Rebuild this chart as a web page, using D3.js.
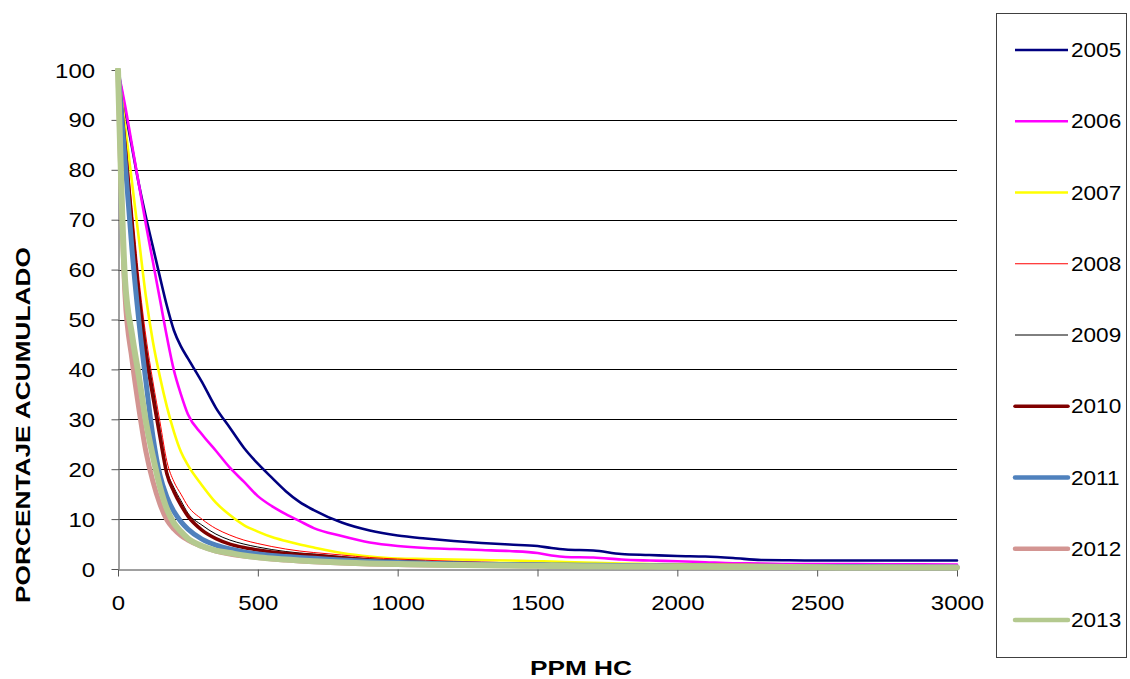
<!DOCTYPE html>
<html>
<head>
<meta charset="utf-8">
<script src="https://cdn.jsdelivr.net/npm/d3@7"></script>
<style>
  html, body { margin: 0; padding: 0; background: #fff; }
  svg { display: block; }
  text { font-family: "Liberation Sans", Arial, sans-serif; fill: #000; }
</style>
</head>
<body>
<svg id="chart" width="1130" height="679"></svg>
<script>
// PPM HC sampling points (x values shared by every year)
const ppm = [0,25,50,75,100,125,150,175,200,225,250,
             300,350,400,450,500,550,600,650,700,
             800,900,1000,1100,1200,1300,1400,1500,
             1550,1600,1700,1800,1900,2000,2100,2200,2300,2400,2500,
             2750,3000];

// Cumulative percentage per year
const pct2005 = [100,92,84.5,77,70.5,64.5,58.5,52.7,47.8,44.6,42.2,
                 37.5,32.3,28.3,24.3,21.1,18.3,15.6,13.4,11.8,
                 9.3,7.7,6.7,6.1,5.6,5.2,4.9,4.6,
                 4.2,3.9,3.7,3.0,2.8,2.6,2.5,2.2,1.8,1.75,1.7,
                 1.7,1.7];
const pct2006 = [100,93,85,77,69,61.5,54,46.5,39.8,35.0,31.0,
                 27.0,23.7,20.3,17.5,14.6,12.6,11.0,9.6,8.2,
                 6.6,5.3,4.6,4.2,4.0,3.8,3.6,3.2,
                 2.7,2.4,2.3,1.9,1.7,1.55,1.35,1.15,1.1,1.0,1.0,
                 0.95,0.9];
const pct2007 = [100,89,77.5,66,54.5,45.5,38.5,32.5,27.5,23.5,20.8,
                 16.8,13.3,10.8,8.8,7.5,6.4,5.6,4.9,4.3,
                 3.2,2.5,2.1,2.0,1.9,1.8,1.7,1.55,
                 1.5,1.4,1.25,1.1,1.0,0.95,0.9,0.85,0.8,0.75,0.7,
                 0.6,0.5];
const pct2008 = [100,87,72.5,58,46.5,37.5,29.5,21.5,17.5,15.0,12.6,
                 10.0,8.1,6.8,5.8,5.1,4.5,4.0,3.6,3.3,
                 2.8,2.3,2.0,1.75,1.55,1.4,1.25,1.15,
                 1.1,1.05,1.0,0.9,0.85,0.8,0.75,0.7,0.65,0.6,0.6,
                 0.5,0.45];
const pct2009 = [100,86,71,56.5,45,36.3,28,19.8,16.3,13.7,11.2,
                 8.8,7.0,5.8,5.0,4.4,3.9,3.5,3.2,3.0,
                 2.5,2.0,1.7,1.5,1.35,1.2,1.1,1.0,
                 0.95,0.9,0.85,0.8,0.75,0.7,0.65,0.6,0.6,0.55,0.5,
                 0.45,0.4];
const pct2010 = [100,85,69,54.5,43,34.5,26.5,19,15.5,12.8,10.6,
                 7.8,6.1,5.0,4.3,3.8,3.4,3.1,2.9,2.7,
                 2.2,1.8,1.5,1.3,1.15,1.05,0.95,0.9,
                 0.85,0.8,0.75,0.7,0.65,0.6,0.55,0.55,0.5,0.5,0.45,
                 0.4,0.35];
const pct2011 = [100,82,64,49.5,37.5,26.5,18.8,14.4,11.5,9.5,8.0,
                 6.0,4.8,4.0,3.4,3.0,2.7,2.5,2.3,2.15,
                 1.8,1.5,1.3,1.15,1.05,0.95,0.9,0.85,
                 0.8,0.8,0.75,0.7,0.65,0.6,0.6,0.55,0.55,0.5,0.5,
                 0.45,0.4];
const pct2012 = [100,55,42,32,23.5,17.5,13,9.8,8.0,6.7,5.8,
                 4.5,3.6,3.0,2.6,2.3,2.0,1.8,1.6,1.45,
                 1.2,1.0,0.9,0.8,0.75,0.7,0.65,0.6,
                 0.55,0.55,0.5,0.5,0.45,0.45,0.4,0.4,0.4,0.35,0.35,
                 0.3,0.3];
const pct2013 = [100,58,47,38.5,29.5,22.5,16.5,12,9.2,7.5,6.1,
                 4.6,3.7,3.2,2.7,2.35,2.1,1.9,1.7,1.55,
                 1.3,1.1,1.0,0.9,0.8,0.75,0.7,0.65,
                 0.6,0.6,0.55,0.5,0.5,0.45,0.45,0.4,0.4,0.4,0.35,
                 0.3,0.3];

const years = ["2005","2006","2007","2008","2009","2010","2011","2012","2013"];
const seriesValues = [pct2005,pct2006,pct2007,pct2008,pct2009,pct2010,pct2011,pct2012,pct2013];

const xTicks = [0,500,1000,1500,2000,2500,3000];
const yTicks = [0,10,20,30,40,50,60,70,80,90,100];

const xTitle = "PPM HC";
const yTitle = "PORCENTAJE ACUMULADO";

// Line appearance per year
const lineStyle = {
  "2005": { color: "#000080", width: 2.6 },
  "2006": { color: "#FF00FF", width: 2.6 },
  "2007": { color: "#FFFF00", width: 2.6 },
  "2008": { color: "#FF0000", width: 1 },
  "2009": { color: "#000000", width: 1 },
  "2010": { color: "#800000", width: 3.5 },
  "2011": { color: "#4F81BD", width: 5 },
  "2012": { color: "#D39592", width: 5 },
  "2013": { color: "#B4C98F", width: 6 }
};

const svg = d3.select("#chart");
const plot = { left: 118, right: 957, top: 70, bottom: 569 };
const stretch = 1.2; // horizontal widening of the label type

const x = d3.scaleLinear().domain([0, 3000]).range([plot.left, plot.right]);
const y = d3.scaleLinear().domain([0, 100]).range([plot.bottom, plot.top]);

// Horizontal gridlines
svg.append("g")
  .selectAll("line")
  .data(yTicks.filter(v => v > 0 && v < 100))
  .join("line")
  .attr("x1", plot.left).attr("x2", plot.right)
  .attr("y1", d => Math.round(y(d)) + 0.5).attr("y2", d => Math.round(y(d)) + 0.5)
  .attr("stroke", "#000")
  .attr("stroke-width", 1);

// Y axis
const yAxis = svg.append("g")
  .attr("transform", `translate(${plot.left + 0.5},0)`)
  .call(d3.axisLeft(y).tickValues(yTicks).tickSize(7).tickSizeOuter(0).tickFormat(d3.format("d")));
yAxis.select(".domain").attr("stroke", "#808080").attr("stroke-width", 1.5);
yAxis.selectAll(".tick line").attr("stroke", "#555");
yAxis.selectAll(".tick text")
  .attr("font-size", 20)
  .attr("font-family", "Liberation Sans, Arial, sans-serif")
  .attr("fill", "#000")
  .attr("x", -19.5)
  .attr("dy", "0.35em")
  .attr("transform", `scale(${stretch},1)`);

// X axis
const xAxis = svg.append("g")
  .attr("transform", `translate(0,${plot.bottom + 0.5})`)
  .call(d3.axisBottom(x).tickValues(xTicks).tickSize(7).tickSizeOuter(0).tickFormat(d3.format("d")));
xAxis.select(".domain").attr("stroke", "#808080").attr("stroke-width", 1.5);
xAxis.selectAll(".tick line").attr("stroke", "#555");
xAxis.selectAll(".tick text")
  .attr("font-size", 20)
  .attr("font-family", "Liberation Sans, Arial, sans-serif")
  .attr("fill", "#000")
  .attr("y", 41)
  .attr("dy", 0)
  .attr("transform", `scale(${stretch},1)`);

// Series lines
const line = d3.line()
  .x(d => x(d[0]))
  .y(d => y(d[1]))
  .curve(d3.curveMonotoneX);

svg.append("clipPath").attr("id", "plotclip")
  .append("rect")
  .attr("x", plot.left - 4).attr("y", plot.top - 2)
  .attr("width", plot.right - plot.left + 8).attr("height", plot.bottom - plot.top + 4);

svg.append("g").attr("clip-path", "url(#plotclip)")
  .selectAll("path")
  .data(years.map((yr, i) => ({ yr, pts: ppm.map((p, j) => [p, seriesValues[i][j]]) })))
  .join("path")
  .attr("d", d => line(d.pts))
  .attr("fill", "none")
  .attr("stroke", d => lineStyle[d.yr].color)
  .attr("stroke-width", d => lineStyle[d.yr].width)
  .attr("stroke-linejoin", "round")
  .attr("stroke-linecap", "round");

// Axis titles
svg.append("text")
  .attr("transform", `translate(581,675) scale(1.25,1)`)
  .attr("text-anchor", "middle")
  .attr("font-size", 21)
  .attr("font-weight", "bold")
  .text(xTitle);

svg.append("text")
  .attr("transform", `translate(30,425) rotate(-90) scale(1.25,1)`)
  .attr("text-anchor", "middle")
  .attr("font-size", 21)
  .attr("font-weight", "bold")
  .text(yTitle);

// Legend
const legend = svg.append("g");
legend.append("rect")
  .attr("x", 996.5).attr("y", 13.5)
  .attr("width", 130).attr("height", 644)
  .attr("fill", "#fff")
  .attr("stroke", "#404040")
  .attr("stroke-width", 1);

const rowY = d3.scalePoint().domain(years).range([50, 620]);
const items = legend.selectAll("g.item").data(years).join("g")
  .attr("class", "item")
  .attr("transform", d => `translate(0,${rowY(d)})`);
items.append("line")
  .attr("x1", 1015).attr("x2", 1068)
  .attr("y1", 0).attr("y2", 0)
  .attr("stroke", d => lineStyle[d].color)
  .attr("stroke-width", d => Math.min(lineStyle[d].width, 4.5))
  .attr("stroke-linecap", d => lineStyle[d].width > 3 ? "round" : "butt");
items.append("text")
  .attr("transform", `translate(1071,0) scale(1.13,1)`)
  .attr("dy", "0.35em")
  .attr("font-size", 20)
  .text(d => d);
</script>
</body>
</html>
